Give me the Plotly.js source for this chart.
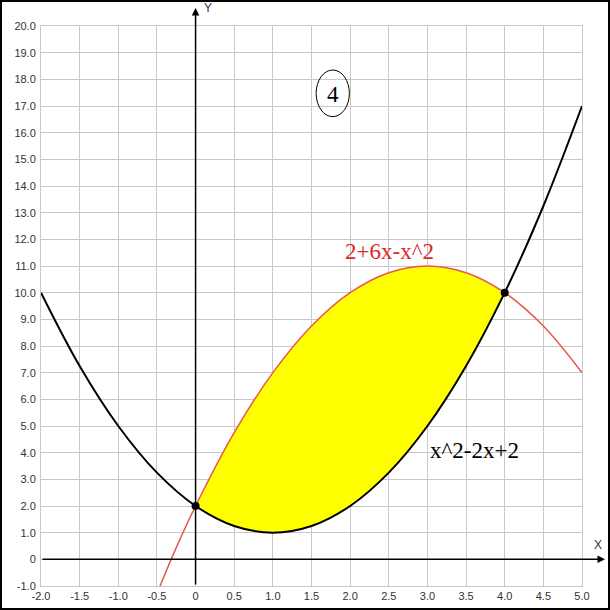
<!DOCTYPE html>
<html>
<head>
<meta charset="utf-8">
<script src="https://cdn.plot.ly/plotly-3.0.1.min.js"></script>
<style>
  html, body { margin: 0; padding: 0; background: #fff; }
  #wrap { position: relative; width: 610px; height: 610px; }
  #chart { width: 610px; height: 610px; }
  #frame { position: absolute; left: 0; top: 0; width: 610px; height: 610px; box-sizing: border-box; border: 2px solid #000; pointer-events: none; }
</style>
</head>
<body>
<div id="wrap"><div id="chart"></div><div id="frame"></div></div>
<script>
// Black curve  x^2-2x+2
const blackX = [-2, -1.5, -1, -0.5, 0, 0.5, 1, 1.5, 2, 2.5, 3, 3.5, 4, 4.5, 5];
const blackY = [10, 7.25, 5, 3.25, 2, 1.25, 1, 1.25, 2, 3.25, 5, 7.25, 10, 13.25, 17];
// Red curve  2+6x-x^2
const redX = [-0.46, -0.25, 0, 0.5, 1, 1.5, 2, 2.5, 3, 3.5, 4, 4.5, 5];
const redY = [-1, 0.44, 2, 4.75, 7, 8.75, 10, 10.75, 11, 10.75, 10, 8.75, 7];
// Shaded region bounds (x from 0 to 4)
const areaX = [0, 0.5, 1, 1.5, 2, 2.5, 3, 3.5, 4];
const areaLow = [2, 1.25, 1, 1.25, 2, 3.25, 5, 7.25, 10];
const areaHigh = [2, 4.75, 7, 8.75, 10, 10.75, 11, 10.75, 10];
// Intersection points
const ptsX = [0, 4];
const ptsY = [2, 10];
// Tick labels
const xTickVals = [-2, -1.5, -1, -0.5, 0, 0.5, 1, 1.5, 2, 2.5, 3, 3.5, 4, 4.5, 5];
const xTickText = ["-2.0", "-1.5", "-1.0", "-0.5", "0", "0.5", "1.0", "1.5", "2.0", "2.5", "3.0", "3.5", "4.0", "4.5", "5.0"];
const yTickVals = [-1, 0, 1, 2, 3, 4, 5, 6, 7, 8, 9, 10, 11, 12, 13, 14, 15, 16, 17, 18, 19, 20];
const yTickText = ["-1.0", "0", "1.0", "2.0", "3.0", "4.0", "5.0", "6.0", "7.0", "8.0", "9.0", "10.0", "11.0", "12.0", "13.0", "14.0", "15.0", "16.0", "17.0", "18.0", "19.0", "20.0"];
// Labels
const redLabel = "2+6x-x^2";
const blackLabel = "x^2-2x+2";
const regionLabel = "4";
const xAxisName = "X";
const yAxisName = "Y";

const traces = [
  { x: areaX, y: areaLow, mode: 'lines', line: { width: 0, shape: 'spline' }, hoverinfo: 'skip', showlegend: false },
  { x: areaX, y: areaHigh, mode: 'lines', line: { width: 0, shape: 'spline' }, fill: 'tonexty', fillcolor: '#ffff00', hoverinfo: 'skip', showlegend: false },
  { x: redX, y: redY, mode: 'lines', line: { color: '#e65a4e', width: 1.5, shape: 'spline' }, showlegend: false },
  { x: blackX, y: blackY, mode: 'lines', line: { color: '#000', width: 2, shape: 'spline' }, showlegend: false },
  { x: ptsX, y: ptsY, mode: 'markers', marker: { color: '#000', size: 8 }, showlegend: false, cliponaxis: false }
];

const tickFont = { family: 'Liberation Sans, Arial, sans-serif', size: 11, color: '#333' };
const axisNameFont = { family: 'Liberation Sans, Arial, sans-serif', size: 12, color: '#333' };
const serif = 'Liberation Serif, Times New Roman, serif';
const layout = {
  width: 610, height: 610,
  margin: { l: 41, r: 28, t: 26, b: 24 },
  paper_bgcolor: '#fff', plot_bgcolor: '#fff',
  xaxis: {
    range: [-2, 5], tickvals: xTickVals, ticktext: xTickText, tickfont: tickFont,
    showgrid: true, gridcolor: '#c8c8c8', gridwidth: 1, zeroline: false,
    showline: true, linecolor: '#c8c8c8', linewidth: 1, mirror: true, ticks: '', fixedrange: true
  },
  yaxis: {
    range: [-1, 20], tickvals: yTickVals, ticktext: yTickText, tickfont: tickFont,
    showgrid: true, gridcolor: '#c8c8c8', gridwidth: 1, zeroline: false,
    showline: true, linecolor: '#c8c8c8', linewidth: 1, mirror: true, ticks: '', ticklabelstandoff: 2, fixedrange: true
  },
  shapes: [
    { type: 'circle', xref: 'x', yref: 'y', x0: 1.56, x1: 1.99, y0: 16.6, y1: 18.35, line: { color: '#000', width: 1 } }
  ],
  annotations: [
    // x axis with arrow (paper coords so the head may sit outside the plot)
    { x: 1.0425, y: 1 / 21, xref: 'paper', yref: 'paper', ax: -564, ay: 0, text: '', showarrow: true, arrowhead: 2, arrowsize: 1, arrowwidth: 1.5, arrowcolor: '#000' },
    // y axis with arrow
    { x: 2 / 7, y: 1.032, xref: 'paper', yref: 'paper', ax: 0, ay: 578, text: '', showarrow: true, arrowhead: 2, arrowsize: 1, arrowwidth: 1.5, arrowcolor: '#000' },
    { x: 1.0296, y: 0.0732, xref: 'paper', yref: 'paper', xanchor: 'center', yanchor: 'middle', text: xAxisName, showarrow: false, font: axisNameFont },
    { x: 0.3087, y: 1.032, xref: 'paper', yref: 'paper', xanchor: 'center', yanchor: 'middle', text: yAxisName, showarrow: false, font: axisNameFont },
    { x: 1.775, y: 17.42, xref: 'x', yref: 'y', xanchor: 'center', yanchor: 'middle', text: regionLabel, showarrow: false, font: { family: serif, size: 23, color: '#000' } },
    { x: 2.505, y: 11.55, xref: 'x', yref: 'y', xanchor: 'center', yanchor: 'middle', text: redLabel, showarrow: false, font: { family: serif, size: 23, color: '#dc2828' } },
    { x: 3.61, y: 4.1, xref: 'x', yref: 'y', xanchor: 'center', yanchor: 'middle', text: blackLabel, showarrow: false, font: { family: serif, size: 23, color: '#000' } }
  ]
};

Plotly.newPlot('chart', traces, layout, { displayModeBar: false, staticPlot: true });
</script>
</body>
</html>
